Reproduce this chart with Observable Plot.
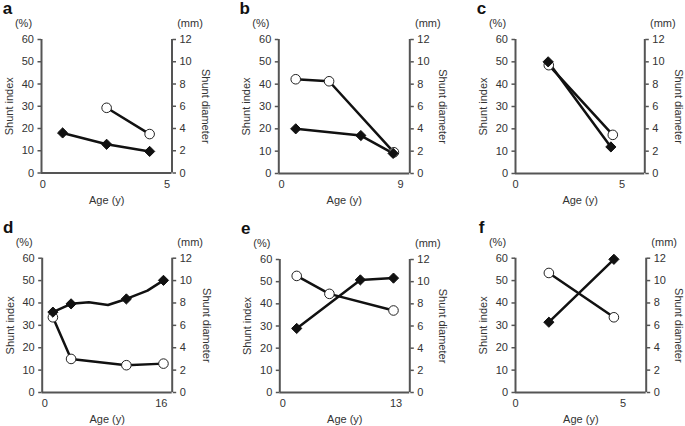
<!DOCTYPE html>
<html><head><meta charset="utf-8">
<script src="https://cdn.jsdelivr.net/npm/d3@7"></script>
<script src="https://cdn.jsdelivr.net/npm/@observablehq/plot@0.6"></script>
<style>
body{margin:0;background:#fff;font-family:"Liberation Sans",Arial,sans-serif;}
#wrap{position:relative;width:685px;height:426px;overflow:hidden;background:#fff;}
.panel{position:absolute;}
</style></head><body><div id="wrap"></div>
<script>
// Panel letters and the labelled max tick on the age axis
const panelLetters = ["a", "b", "c", "d", "e", "f"];
const ageTickMax = [5, 9, 5, 16, 13, 5];
const indexTicks = [0, 10, 20, 30, 40, 50, 60];

// Shunt index (%) — filled diamonds
const indexAge = [
  [0.8, 2.57, 4.3],
  [1.08, 6.0, 8.44],
  [1.53, 4.47],
  [1.1, 3.6, 6.05, 8.67, 11.2, 14.1, 16.3],
  [1.6, 8.9, 12.7],
  [1.55, 4.57]
];
const indexValue = [
  [18.0, 12.9, 9.7],
  [20, 17, 9],
  [50, 11.9],
  [35.9, 39.6, 40.3, 39.1, 41.8, 45.5, 50.1],
  [28.9, 50.8, 51.6],
  [31.4, 59.5]
];
const indexMarked = [
  [1, 1, 1],
  [1, 1, 1],
  [1, 1],
  [1, 1, 0, 0, 1, 0, 1],
  [1, 1, 1],
  [1, 1]
];

// Shunt diameter (mm) — open circles
const diameterAge = [
  [2.57, 4.3],
  [1.08, 3.6, 8.5],
  [1.56, 4.56],
  [1.1, 3.6, 11.2, 16.3],
  [1.6, 5.35, 12.7],
  [1.55, 4.57]
];
const diameterValue = [
  [5.86, 3.5],
  [8.44, 8.26, 1.9],
  [9.7, 3.46],
  [6.72, 3.0, 2.44, 2.58],
  [10.52, 8.9, 7.4],
  [10.68, 6.72]
];

// layout (page pixels)
const layout = [
  {ox: 0,   oy: 0,   w: 228, h: 210, xDom: [-0.05, 5.2],  L: 41,    R: 171.5, T: 39,    B: 172.5, rl: 34},
  {ox: 225, oy: 0,   w: 230, h: 210, xDom: [-0.2, 9.7],   L: 278.3, R: 409.3, T: 39,    B: 173,   rl: 33},
  {ox: 455, oy: 0,   w: 230, h: 210, xDom: [0, 6.06],     L: 515,   R: 644.3, T: 39,    B: 173,   rl: 34},
  {ox: 0,   oy: 210, w: 228, h: 216, xDom: [-0.37, 17.5], L: 41.7,  R: 171.7, T: 257.7, B: 392,   rl: 34},
  {ox: 225, oy: 210, w: 230, h: 216, xDom: [-0.34, 14.57],L: 279.3, R: 409.3, T: 259,   B: 392,   rl: 33},
  {ox: 455, oy: 210, w: 230, h: 216, xDom: [0, 6.07],     L: 515,   R: 645.7, T: 257.7, B: 392,   rl: 32}
];

const axisColor = "#555";
const wrap = document.getElementById("wrap");

layout.forEach((p, i) => {
  const idx = indexAge[i].map((a, j) => ({age: a, pct: indexValue[i][j], marked: indexMarked[i][j]}));
  const dia = diameterAge[i].map((a, j) => ({age: a, mm: diameterValue[i][j]}));
  const chart = Plot.plot({
    width: p.w,
    height: p.h,
    marginLeft: p.L - p.ox,
    marginRight: p.ox + p.w - p.R,
    marginTop: p.T - p.oy,
    marginBottom: p.oy + p.h - p.B,
    x: {domain: p.xDom},
    y: {domain: [0, 60]},
    style: {fontFamily: "'Liberation Sans', Arial, sans-serif", fontSize: "11px", color: "#333", background: "transparent", overflow: "visible"},
    marks: [
      Plot.axisY({anchor: "left", ticks: indexTicks, tickSize: 3.5, tickPadding: 4, label: null, stroke: axisColor, strokeWidth: 1.5}),
      Plot.axisY({anchor: "right", ticks: indexTicks, tickFormat: d => String(d / 5), tickSize: 3.5, tickPadding: 4, label: null, stroke: axisColor, strokeWidth: 1.5}),
      Plot.axisX({ticks: [0, ageTickMax[i]], tickFormat: d => String(d), tickSize: 0, tickPadding: 7, label: null}),
      Plot.ruleX([p.xDom[0], p.xDom[1]], {stroke: axisColor, strokeWidth: 2}),
      Plot.ruleY([0], {stroke: axisColor, strokeWidth: 2}),
      Plot.line(dia, {x: "age", y: d => d.mm * 5, stroke: "#111", strokeWidth: 2.5}),
      Plot.line(idx, {x: "age", y: "pct", stroke: "#111", strokeWidth: 2.5}),
      Plot.dot(dia, {x: "age", y: d => d.mm * 5, r: 4.8, fill: "white", stroke: "#222", strokeWidth: 1}),
      Plot.dot(idx.filter(d => d.marked), {x: "age", y: "pct", symbol: "diamond2", r: 4.6, fill: "#111", stroke: "#111", strokeWidth: 1}),
      Plot.text([panelLetters[i]], {frameAnchor: "top-left", lineAnchor: "middle", dx: -34, dy: -31, textAnchor: "middle", fontWeight: "bold", fontSize: 17, fill: "#111"}),
      Plot.text(["(%)"], {frameAnchor: "top-left", lineAnchor: "middle", dx: -18, dy: -16, textAnchor: "middle"}),
      Plot.text(["(mm)"], {frameAnchor: "top-right", lineAnchor: "middle", dx: 18, dy: -16, textAnchor: "middle"}),
      Plot.text(["Shunt index"], {frameAnchor: "left", lineAnchor: "middle", dx: -32, rotate: -90, textAnchor: "middle"}),
      Plot.text(["Shunt diameter"], {frameAnchor: "right", lineAnchor: "middle", dx: p.rl, rotate: 90, textAnchor: "middle"}),
      Plot.text(["Age (y)"], {frameAnchor: "bottom", lineAnchor: "middle", dy: 27, textAnchor: "middle"})
    ]
  });
  const div = document.createElement("div");
  div.className = "panel";
  div.style.left = p.ox + "px";
  div.style.top = p.oy + "px";
  div.appendChild(chart);
  wrap.appendChild(div);
});
</script>
</body></html>
